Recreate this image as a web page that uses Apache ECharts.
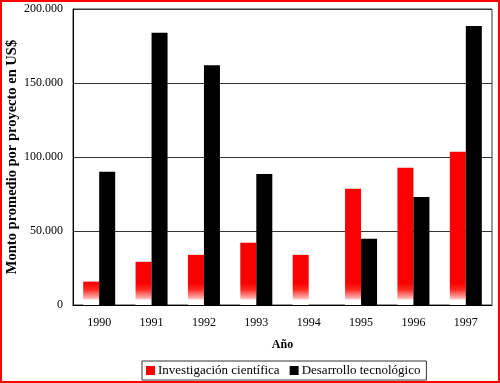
<!DOCTYPE html>
<html>
<head>
<meta charset="utf-8">
<script src="https://cdn.jsdelivr.net/npm/echarts@6/dist/echarts.min.js"></script>
<style>
html,body{margin:0;padding:0;background:#fff;}
#wrap{position:relative;width:500px;height:383px;}
#c{width:500px;height:383px;}
#frame{position:absolute;left:0;top:0;width:500px;height:383px;box-sizing:border-box;border:2px solid #f00;pointer-events:none;}
</style>
</head>
<body>
<div id="wrap"><div id="c"></div><div id="frame"></div></div>
<script>
const categories = ['1990','1991','1992','1993','1994','1995','1996','1997'];
const investigacion = [15800, 29200, 33900, 42000, 33900, 78600, 92800, 103600];
const desarrollo = [90000, 184000, 162000, 88500, 0, 44700, 73000, 188500];
const seriesNames = ['Investigación científica', 'Desarrollo tecnológico'];
const yTicks = { min: 0, max: 200000, interval: 50000 };

const font = '"Liberation Serif", "Times New Roman", serif';
const chart = echarts.init(document.getElementById('c'), null, {renderer: 'canvas'});
const redFill = new echarts.graphic.LinearGradient(0, 283, 0, 305, [
  {offset: 0, color: '#fa0000'},
  {offset: 0.3, color: '#ff2a20'},
  {offset: 0.55, color: '#ff8080'},
  {offset: 0.72, color: '#ffc0c0'},
  {offset: 0.77, color: '#ffffff'},
  {offset: 1, color: '#ffffff'}
], true);

chart.setOption({
  animation: false,
  backgroundColor: '#fff',
  textStyle: {fontFamily: font},
  grid: {left: 73, right: 8, top: 9, bottom: 78, containLabel: false, outerBoundsMode: 'none',
         show: true, borderColor: '#333', borderWidth: 1, backgroundColor: '#fff'},
  legend: {
    left: 142, top: 361,
    data: [
      {name: seriesNames[0], itemStyle: {color: '#f00'}},
      {name: seriesNames[1], itemStyle: {color: '#000'}}
    ],
    itemWidth: 9, itemHeight: 9, itemGap: 10,
    padding: [3, 6, 3, 4],
    borderColor: '#333', borderWidth: 1,
    icon: 'rect',
    textStyle: {fontFamily: font, fontSize: 13, color: '#000', padding: [0, 0, 0, -2]}
  },
  xAxis: {
    type: 'category',
    data: categories,
    name: 'Año',
    nameLocation: 'middle',
    nameGap: 34,
    nameMoveOverlap: false,
    nameTextStyle: {fontFamily: font, fontSize: 12, fontWeight: 'bold', color: '#000'},
    axisLine: {lineStyle: {color: '#000', width: 1}},
    axisTick: {show: false},
    axisLabel: {fontFamily: font, fontSize: 12, color: '#000', margin: 12}
  },
  yAxis: {
    type: 'value',
    min: yTicks.min, max: yTicks.max, interval: yTicks.interval,
    name: 'Monto promedio por proyecto en US$',
    nameLocation: 'middle',
    nameGap: 53,
    nameMoveOverlap: false,
    nameTextStyle: {fontFamily: font, fontSize: 14.5, fontWeight: 'bold', color: '#000'},
    axisLine: {show: true, lineStyle: {color: '#000', width: 1}},
    axisTick: {show: false},
    splitLine: {lineStyle: {color: '#333', width: 1}},
    axisLabel: {
      fontFamily: font, fontSize: 12, color: '#000', margin: 10,
      formatter: v => v === 0 ? '0' : v.toString().replace(/\B(?=(\d{3})+(?!\d))/g, '.')
    }
  },
  series: [
    {
      name: seriesNames[0], type: 'bar', data: investigacion,
      barWidth: 16, barGap: '0%',
      itemStyle: {color: redFill}
    },
    {
      name: seriesNames[1], type: 'bar', data: desarrollo,
      barWidth: 16,
      itemStyle: {color: '#000'}
    }
  ]
});
</script>
</body>
</html>
